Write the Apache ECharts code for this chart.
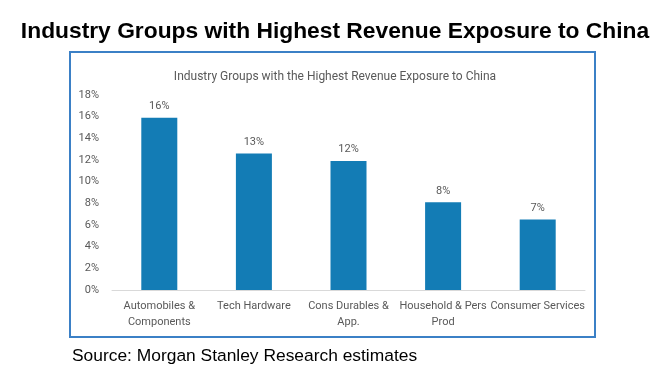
<!DOCTYPE html>
<html>
<head>
<meta charset="utf-8">
<script src="https://cdn.jsdelivr.net/npm/echarts@6/dist/echarts.min.js"></script>
<style>html,body{margin:0;padding:0;background:#fff;}#main{width:670px;height:379px;}</style>
</head>
<body>
<div id="main"></div>
<script>
const categories = ['Automobiles &\nComponents', 'Tech Hardware', 'Cons Durables &\nApp.', 'Household & Pers\nProd', 'Consumer Services'];
const exposure = [15.9, 12.6, 11.9, 8.1, 6.5];
const yTicks = { min: 0, max: 18, interval: 2 };

const chart = echarts.init(document.getElementById('main'), null, { renderer: 'canvas' });
chart.setOption({
  animation: false,
  backgroundColor: '#ffffff',
  graphic: [{
    type: 'rect',
    shape: { x: 70, y: 52, width: 525, height: 285 },
    style: { fill: 'none', stroke: '#3b80c6', lineWidth: 2 },
    z: -1
  }],
  title: [
    { text: 'Industry Groups with Highest Revenue Exposure to China', left: 'center', top: 15,
      textStyle: { fontFamily: 'Liberation Sans', fontWeight: 'bold', fontSize: 22.8, color: '#000' } },
    { text: 'Industry Groups with the Highest Revenue Exposure to China', left: 330, textAlign: 'center', top: 66,
      textStyle: { fontFamily: 'Roboto', fontWeight: 'normal', fontSize: 12, color: '#595959' } },
    { text: 'Source: Morgan Stanley Research estimates', left: 67, top: 343,
      textStyle: { fontFamily: 'Liberation Sans', fontWeight: 'normal', fontSize: 17.4, color: '#000' } }
  ],
  grid: { left: 112, right: 85, top: 95, bottom: 89, containLabel: false },
  xAxis: {
    type: 'category', data: categories,
    axisLine: { lineStyle: { color: '#d9d9d9', width: 1 } },
    axisTick: { show: false },
    axisLabel: { interval: 0, fontFamily: 'Roboto', fontSize: 11, color: '#595959', lineHeight: 16, margin: 8 }
  },
  yAxis: {
    type: 'value', min: yTicks.min, max: yTicks.max, interval: yTicks.interval,
    axisLine: { show: false }, axisTick: { show: false }, splitLine: { show: false },
    axisLabel: { formatter: '{value}%', fontFamily: 'Roboto', fontSize: 11, color: '#595959', margin: 13 }
  },
  series: [{
    type: 'bar', data: exposure, barWidth: 36,
    itemStyle: { color: '#137cb5' },
    label: { show: true, position: 'top', distance: 6, fontFamily: 'Roboto', fontSize: 11, color: '#595959',
      formatter: p => Math.round(p.value) + '%' }
  }]
});
</script>
</body>
</html>
